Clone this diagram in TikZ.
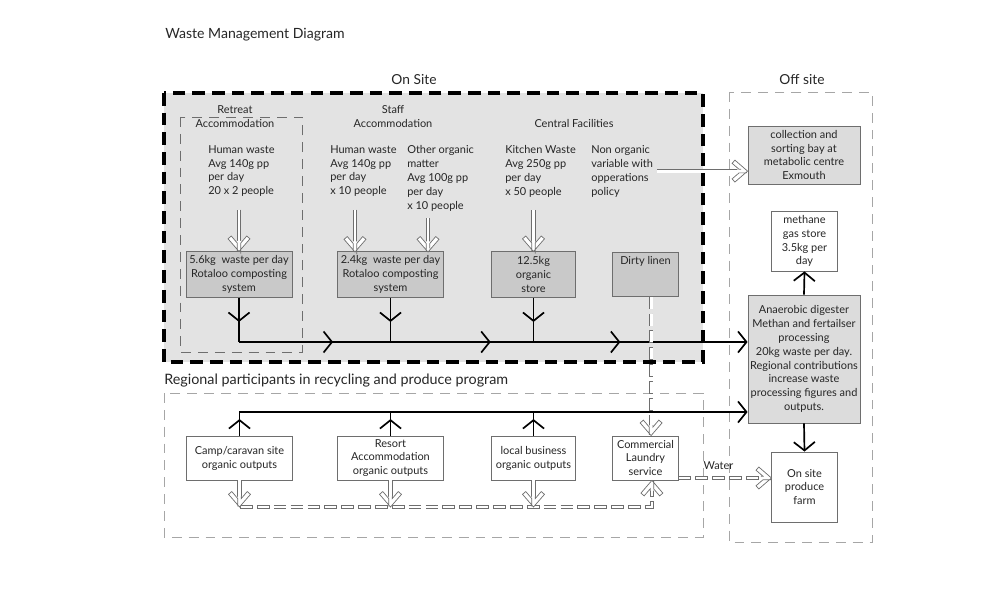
\documentclass[tikz,border=0pt]{standalone}
\usepackage{fontspec}
\setmainfont{Lato}
\usetikzlibrary{positioning,shapes,arrows.meta,decorations.markings}
\definecolor{sitegray}{HTML}{E3E3E3}
\definecolor{boxgray}{HTML}{C9C9C9}
\definecolor{offgray}{HTML}{DCDCDC}
\definecolor{edgegray}{HTML}{6E6E6E}
\tikzstyle{txt} = [anchor=north west, inner sep=0pt, align=left]
\tikzstyle{heading} = [inner sep=0pt, align=center]
\tikzstyle{procbox} = [rectangle, draw=edgegray, line width=0.6pt, fill=boxgray, align=center, inner sep=1pt]
\tikzstyle{offbox} = [procbox, fill=offgray]
\tikzstyle{plainbox} = [procbox, fill=white]
\tikzstyle{flow} = [line width=1.2pt, ->]
\tikzstyle{hollow} = [draw=edgegray, line width=0.5pt, double=white, double distance=2pt, shorten >=7pt]
\tikzstyle{hollowdash} = [draw=white, line width=2pt, dash pattern=on 8pt off 4pt, dash phase=11.5pt, shorten >=7pt,
  preaction={draw=edgegray, line width=3pt, dash pattern=on 9pt off 3pt, dash phase=0pt, shorten >=7pt}]
\tikzstyle{zone} = [draw=black!35, line width=0.6pt, dash pattern=on 7pt off 5pt]
\tikzset{midarrow/.style={line width=1.2pt, decoration={markings, mark=at position #1 with {\arrow{>}}}, postaction={decorate}}}
\tikzset{mainmarks/.style={decoration={markings,
  mark=at position 0.185 with {\arrow{>}},
  mark=at position 0.495 with {\arrow{>}},
  mark=at position 0.75 with {\arrow{>}}}, postaction={decorate}}}
% open double-line head, tip at the origin, pointing along +x
\tikzset{pics/hollowhead/.style={code={
  \fill[white] (-7.5pt,1.25pt) -- (-6pt,1.25pt) -- (-11pt,5.5pt) -- (-9pt,7.8pt) -- (0pt,0pt)
     -- (-9pt,-7.8pt) -- (-11pt,-5.5pt) -- (-6pt,-1.25pt) -- (-7.5pt,-1.25pt) -- cycle;
  \draw[edgegray, line width=0.5pt, solid, line join=miter] (-7.5pt,1.25pt) -- (-6pt,1.25pt) -- (-11pt,5.5pt)
     -- (-9pt,7.8pt) -- (0pt,0pt) -- (-9pt,-7.8pt) -- (-11pt,-5.5pt) -- (-6pt,-1.25pt) -- (-7.5pt,-1.25pt);
}}}

\begin{document}
\begin{tikzpicture}[x=0.025cm, y=-0.025cm, >={Straight Barb[length=6pt,width=15pt]},
    every node/.style={font=\fontsize{7.8}{9.9}\selectfont, text=black!85}]
\useasboundingbox (0,0) rectangle (1000,590);
% headings
\node[anchor=west, inner sep=0pt, font=\fontsize{10}{12}\selectfont] (title) at (165,35) {Waste Management Diagram};
\node[heading, font=\fontsize{9.8}{12}\selectfont] (onsite) at (414,80) {On Site};
\node[heading, font=\fontsize{9.8}{12}\selectfont] (offsite) at (802,80) {Off site};
\node[anchor=west, inner sep=0pt, font=\fontsize{10.2}{12}\selectfont] (regional) at (164,381) {Regional participants in recycling and produce program};

% zones
\draw[black, line width=2.8pt, dash pattern=on 9pt off 5pt, fill=sitegray] (164,93) rectangle (703,362);
\draw[zone] (729,92) rectangle (872,542);
\draw[zone] (164,393) rectangle (703,537);
\draw[zone, draw=edgegray] (180,117) rectangle (302,352);

% on site sources
\node[heading] (retreat) at (235,116.5) {Retreat\\Accommodation};
\node[heading] (staff) at (393,116.5) {Staff\\Accommodation};
\node[heading] (central) at (574,124) {Central Facilities};
\node[txt] (retreatwaste) at (208,145) {Human waste\\Avg 140g pp\\per day\\20 x 2 people};
\node[txt] (staffwaste) at (330,145) {Human waste\\Avg 140g pp\\per day\\x 10 people};
\node[txt] (stafforganic) at (407,145) {Other organic\\matter\\Avg 100g pp\\per day\\x 10 people};
\node[txt] (kitchen) at (505,145) {Kitchen Waste\\Avg 250g pp\\per day\\x 50 people};
\node[txt] (nonorganic) at (591,145) {Non organic\\variable with\\opperations\\policy};

\node[procbox, minimum width=2.65cm, minimum height=1.13cm] (rotaloo1) at (239,274.5) {5.6kg\ \ waste per day\\Rotaloo composting\\system};
\node[procbox, minimum width=2.65cm, minimum height=1.13cm] (rotaloo2) at (390.5,274.5) {2.4kg\ \ waste per day\\Rotaloo composting\\system};
\node[procbox, minimum width=2.08cm, minimum height=1.13cm] (store) at (533.5,274.5) {12.5kg\\organic\\store};
\node[procbox, minimum width=1.63cm, text height=1.5ex, text depth=0.75cm] (linen) at (645.5,274.5) {Dirty linen};

% off site
\node[offbox, minimum width=2.8cm, minimum height=1.45cm] (collection) at (804,155) {collection and\\sorting bay at\\metabolic centre\\Exmouth};
\node[plainbox, minimum width=1.63cm, minimum height=1.5cm] (methane) at (804.5,241) {methane\\gas store\\3.5kg per\\day};
\node[offbox, minimum width=2.8cm, minimum height=3.2cm] (digester) at (804,359) {Anaerobic digester\\Methan and fertailser\\processing\\20kg waste per day.\\Regional contributions\\increase waste\\processing figures and\\outputs.};
\node[plainbox, minimum width=1.63cm, minimum height=1.75cm] (farm) at (804.5,487) {On site\\produce\\farm};

% regional participants
\node[plainbox, minimum width=2.63cm, minimum height=1.1cm] (camp) at (239.5,458) {Camp/caravan site\\organic outputs};
\node[plainbox, minimum width=2.63cm, minimum height=1.1cm] (resort) at (390.5,458) {Resort\\Accommodation\\organic outputs};
\node[plainbox, minimum width=2.08cm, minimum height=1.1cm] (localbiz) at (533.5,458) {local business\\organic outputs};
\node[plainbox, minimum width=1.63cm, minimum height=1.1cm] (laundry) at (645.5,458) {Commercial\\Laundry\\service};

% hollow feeds
\draw[hollow, shorten <=9pt] (rotaloo1.north |- retreatwaste.south) -- (rotaloo1.north) pic[pos=1, sloped] {hollowhead};
\draw[hollow, shorten <=9pt] (staffwaste.south -| 355,0) -- (355,252) pic[pos=1, sloped] {hollowhead};
\draw[hollow, shorten <=5pt] (stafforganic.south -| 428,0) -- (428,252) pic[pos=1, sloped] {hollowhead};
\draw[hollow, shorten <=9pt] (store.north |- kitchen.south) -- (store.north) pic[pos=1, sloped] {hollowhead};
\draw[hollow, shorten <=3pt] (nonorganic.east) -- (nonorganic.east -| collection.west) pic[pos=1, sloped] {hollowhead};

% organic flow to digester
\coordinate (mainstart) at (239,342);
\draw[flow, mainmarks] (mainstart) -- (mainstart -| digester.west);
\draw[midarrow=0.55] (rotaloo1.south) -- (rotaloo1.south |- mainstart);
\draw[midarrow=0.55] (rotaloo2.south) -- (rotaloo2.south |- mainstart);
\draw[midarrow=0.55] (store.south) -- (store.south |- mainstart);

\coordinate (regstart) at (239,412);
\draw[flow] (regstart) -- (regstart -| digester.west);
\draw[midarrow=0.7] (camp.north) -- (camp.north |- regstart);
\draw[midarrow=0.7] (resort.north) -- (resort.north |- regstart);
\draw[midarrow=0.7] (localbiz.north) -- (localbiz.north |- regstart);

\draw[flow] (digester.north) -- (methane.south);
\draw[flow] (digester.south) -- (farm.north);

% laundry and water
\coordinate (pickup) at (240,507);
\draw[hollowdash] ([xshift=0.14cm]linen.south) -- ([xshift=0.14cm]laundry.north) pic[pos=1, sloped] {hollowhead};
\draw[hollowdash] (pickup) -| ([xshift=0.16cm]laundry.south) pic[pos=1, sloped] {hollowhead};
\draw[hollow] (camp.south) -- (camp.south |- pickup) pic[pos=1, sloped] {hollowhead};
\draw[hollow] (resort.south) -- (resort.south |- pickup) pic[pos=1, sloped] {hollowhead};
\draw[hollow] (localbiz.south) -- (localbiz.south |- pickup) pic[pos=1, sloped] {hollowhead};
\draw[hollowdash] (laundry.east |- 0,478) -- (farm.west |- 0,478) pic[pos=1, sloped] {hollowhead}
  node[pos=0.43, above=2pt] (water) {Water};
\end{tikzpicture}
\end{document}
